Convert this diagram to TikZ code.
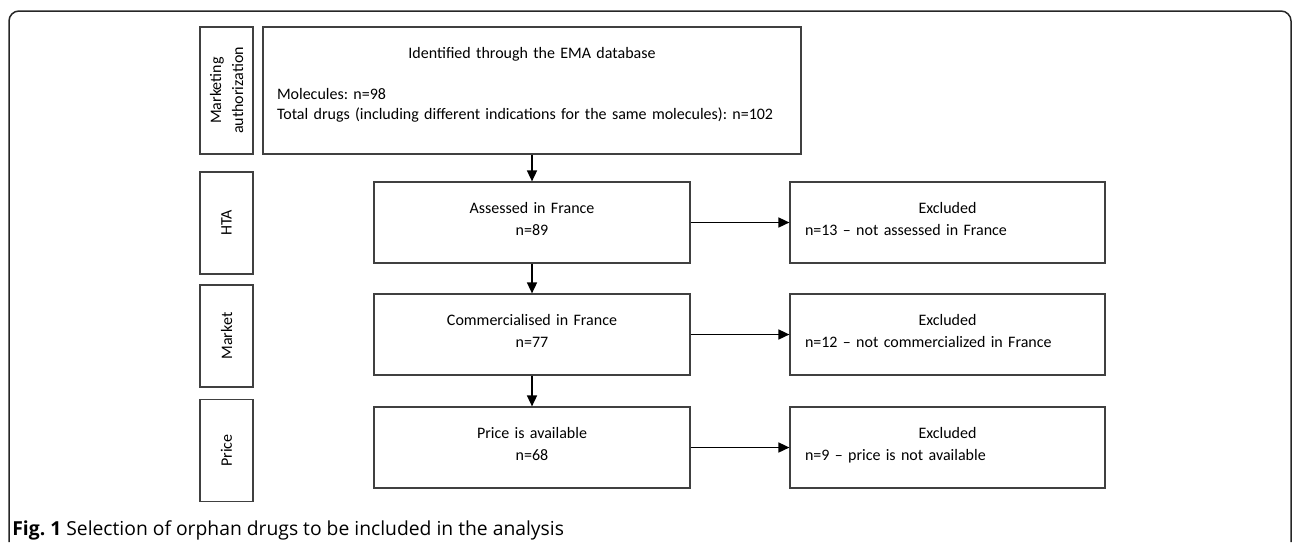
\documentclass[tikz,border=0pt]{standalone}
\usepackage{fontspec}
\setmainfont{Carlito}
\newfontfamily\capfont{Open Sans}
\usetikzlibrary{arrows.meta}
\frenchspacing

\begin{document}
\begin{tikzpicture}[x=0.5pt, y=-0.5pt,
  font=\fontsize{8}{11}\selectfont,
  stagebox/.style={draw=black!75, line width=0.6pt, rotate=90, inner sep=0pt, align=center, minimum height=26.5pt},
  flowbox/.style={draw=black!75, line width=0.6pt, inner xsep=7.5pt, minimum height=40.5pt},
  flowarrow/.style={line width=0.8pt, -{Triangle[length=5.5pt, width=5pt]}}]

\useasboundingbox (0,0) rectangle (1293,542);
\draw [line width=0.75pt, black!85, rounded corners=5pt] (9,542) -- (9,11) -- (1291,11) -- (1291,542);

% stages on the left
\node [stagebox, minimum width=63.5pt] (ma) at (226.5,90.5) {Marketing\\authorization};
\foreach \y/\t/\n in {223/HTA/hta, 336/Market/mkt, 450.5/Price/pr}
  \node [stagebox, minimum width=51pt] (\n) at (226.5,\y) {\t};

% main flow (the empty last line lifts the text a little, as in Word)
\node [flowbox, inner xsep=7pt, text width=255pt, minimum height=63.5pt, align=left] (ema) at (532,90.5)
  {\makebox[\linewidth]{Identified through the EMA database}\\[9.5pt]Molecules: n=98\\[-1pt]Total drugs (including different indications for the same molecules): n=102\\[-3.5pt]\mbox{}};
\node [flowbox, text width=143pt, align=center] (assessed) at (532,222.5) {Assessed in France\\n=89\\[-7pt]\mbox{}};
\node [flowbox, text width=143pt, align=center] (commerc) at (532,334.5) {Commercialised in France\\n=77\\[-7pt]\mbox{}};
\node [flowbox, text width=143pt, align=center] (priced) at (532,447.5) {Price is available\\n=68\\[-7pt]\mbox{}};

% excluded
\node [flowbox, text width=142.5pt, align=left] (exhta) at (947.5,222.5) {\makebox[\linewidth]{Excluded}\\n=13 -- not assessed in France\\[-7pt]\mbox{}};
\node [flowbox, text width=142.5pt, align=left] (exmkt) at (947.5,334.5) {\makebox[\linewidth]{Excluded}\\n=12 -- not commercialized in France\\[-7pt]\mbox{}};
\node [flowbox, text width=142.5pt, align=left] (expr) at (947.5,447.5) {\makebox[\linewidth]{Excluded}\\n=9 -- price is not available\\[-7pt]\mbox{}};

\draw [flowarrow] (ema) -- (assessed);
\draw [flowarrow] (assessed) -- (commerc);
\draw [flowarrow] (commerc) -- (priced);
\draw [flowarrow] (assessed) -- (exhta);
\draw [flowarrow] (commerc) -- (exmkt);
\draw [flowarrow] (priced) -- (expr);

\node [anchor=base west, inner sep=0pt, font=\capfont\fontsize{9.65}{12}\selectfont] (caption) at (12,535)
  {\textbf{Fig. 1} Selection of orphan drugs to be included in the analysis};
\end{tikzpicture}
\end{document}
